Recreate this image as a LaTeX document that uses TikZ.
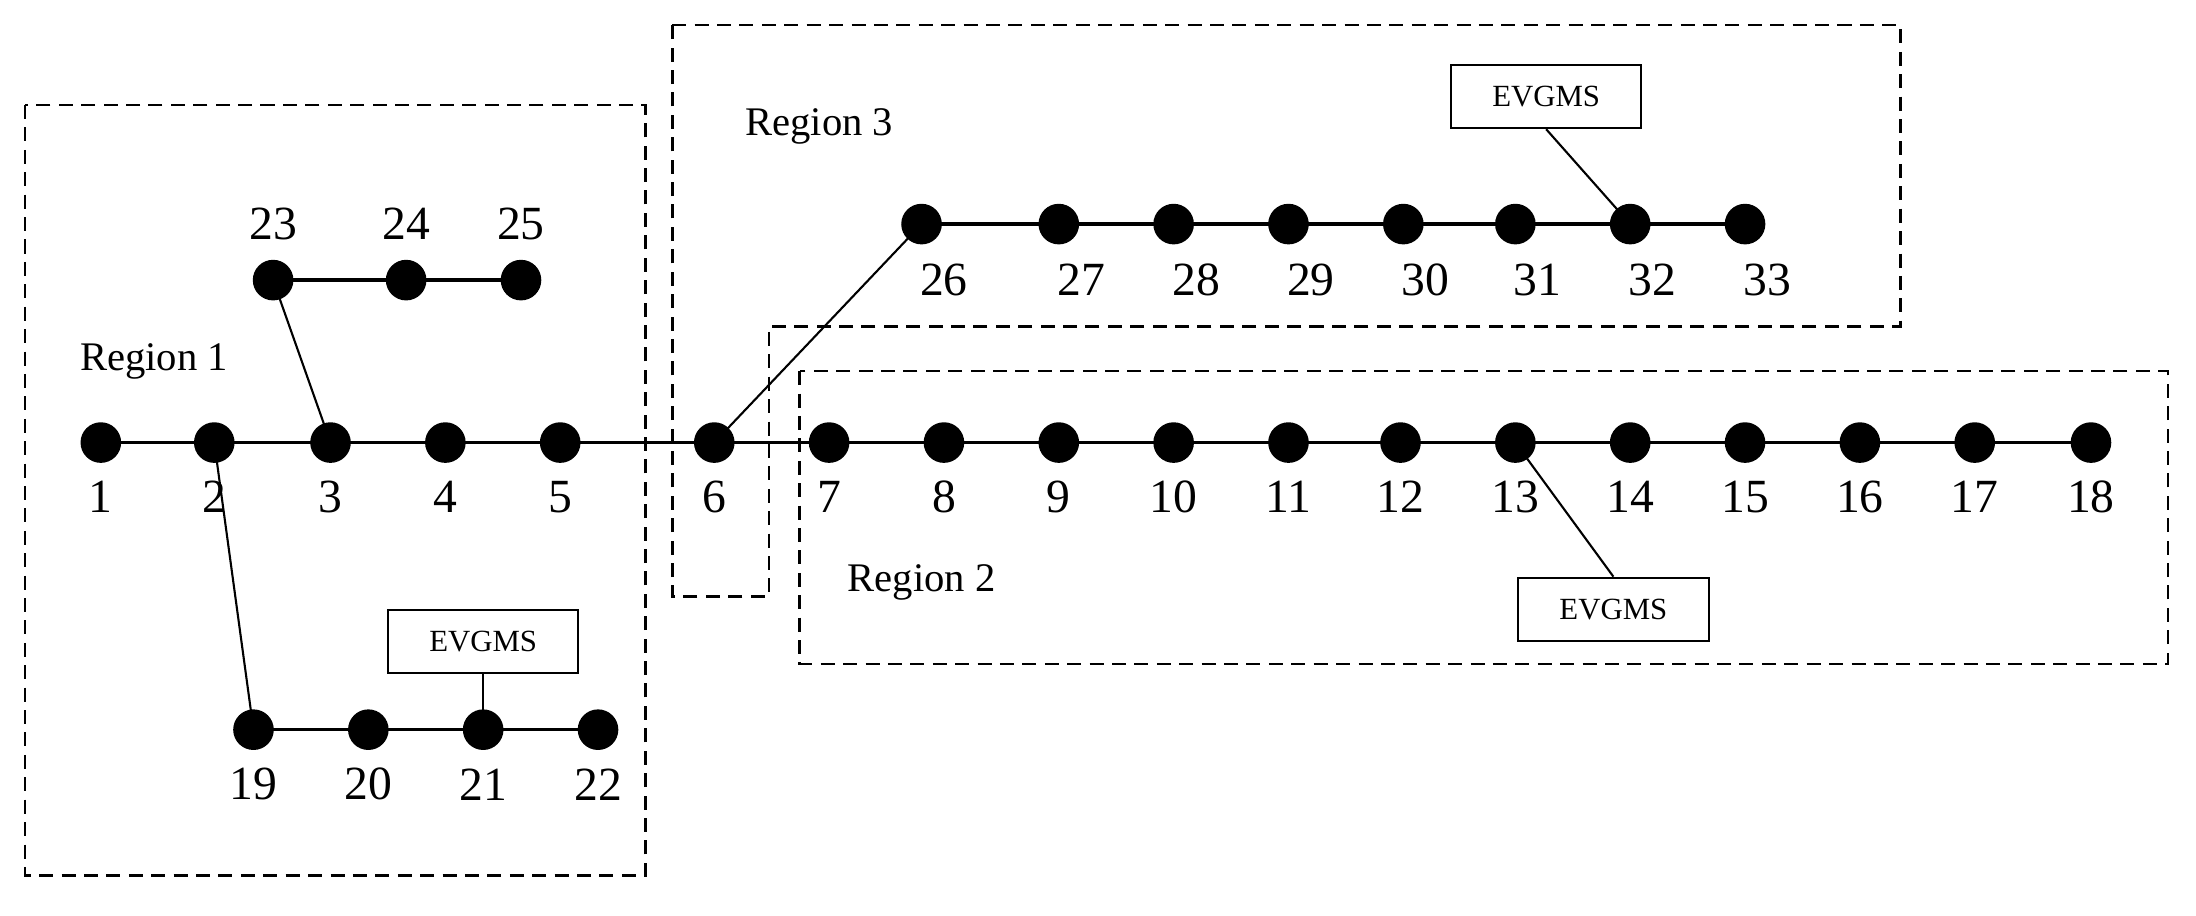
\documentclass[tikz,border=0pt]{standalone}
\usepackage{fontspec}
\setmainfont{Liberation Serif}
\begin{document}
\begin{tikzpicture}[x=1pt,y=-1pt,
  bus/.style={circle,fill=black,inner sep=0pt,minimum size=29pt},
  lab/.style={font=\fontsize{34}{36}\selectfont},
  reg/.style={font=\fontsize{29}{32}\selectfont},
  ev/.style={draw,line width=1.5pt,minimum width=136pt,minimum height=45pt,inner sep=0pt,font=\fontsize{22}{24}\selectfont},
  wire/.style={line width=2.5pt},
  thin/.style={line width=1.5pt},
  area/.style={dashed,line width=1.8pt,dash pattern=on 10pt off 6pt}]
\useasboundingbox (0,0) rectangle (1568,654);
% main line
\foreach \n/\x in {1/72,2/153,3/236,4/318,5/400,6/510,7/592,8/674,9/756,10/838,11/920,12/1000,13/1082,14/1164,15/1246,16/1328,17/1410,18/1493}
  {\node[bus] (b\n) at (\x,316) {}; \node[lab] (l\n) at (\x,355) {\n};}
\foreach \n/\x in {23/195,24/290,25/372}
  {\node[bus] (b\n) at (\x,200) {}; \node[lab] (l\n) at (\x,160) {\n};}
\foreach \n/\x in {19/181,20/263,21/345,22/427}
  {\node[bus] (b\n) at (\x,521) {}; \node[lab] (l\n) at (\x,560) {\n};}
\foreach \n/\x in {26/658,27/756,28/838,29/920,30/1002,31/1082,32/1164,33/1246}
  {\node[bus] (b\n) at (\x,160) {}; \node[lab] (l\n) at (\x+16,200) {\n};}
\draw[wire] (b1.center) -- (b18.center);
\draw[wire] (b23.center) -- (b25.center);
\draw[wire] (b19.center) -- (b22.center);
\draw[wire] (b26.center) -- (b33.center);
\draw[thin] (b23.center) -- (b3.center);
\draw[thin] (b2.center) -- (b19.center);
\draw[thin] (b6.center) -- (b26.center);
\node[ev] (e32) at (1104,69) {EVGMS};
\node[ev] (e13) at (1152,435) {EVGMS};
\node[ev] (e21) at (345,458) {EVGMS};
\draw[thin] (e32.south) -- (b32.center);
\draw[thin] (b13.center) -- (e13.north);
\draw[thin] (e21.south) -- (b21.center);
\draw[area] (18,75) rectangle (461,625);
\draw[area] (480,18) -- (1357,18) -- (1357,233) -- (549,233) -- (549,426) -- (480,426) -- cycle;
\draw[area] (571,265) rectangle (1548,474);
\node[reg] (r1) at (110,258) {Region 1};
\node[reg] (r3) at (585,90) {Region 3};
\node[reg] (r2) at (658,416) {Region 2};
\end{tikzpicture}
\end{document}
